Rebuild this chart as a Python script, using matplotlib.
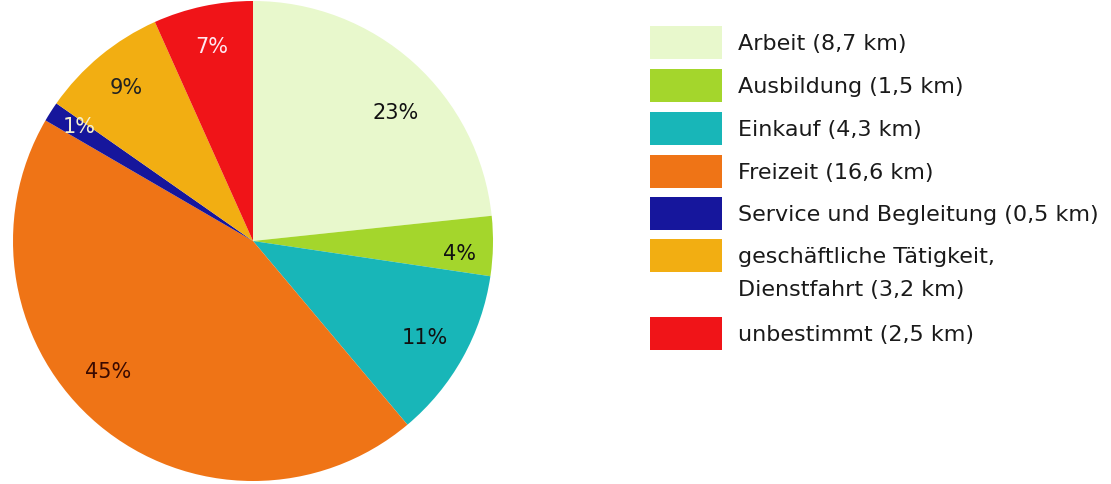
import matplotlib
matplotlib.use('Agg')
import matplotlib.pyplot as plt
from matplotlib.patches import Rectangle
import numpy as np

# data
categories = ["Arbeit", "Ausbildung", "Einkauf", "Freizeit", "Service und Begleitung",
              "geschäftliche Tätigkeit,\nDienstfahrt", "unbestimmt"]
km = [8.7, 1.5, 4.3, 16.6, 0.5, 3.2, 2.5]
km_labels = ["8,7", "1,5", "4,3", "16,6", "0,5", "3,2", "2,5"]
pct_labels = ["23%", "4%", "11%", "45%", "1%", "9%", "7%"]

colors = ["#e8f8cc", "#a4d62c", "#18b6b8", "#ef7416", "#16169c", "#f2ae12", "#f01418"]
pct_colors = ["#111111", "#111111", "#111111", "#3a0a00", "#f4f0d0", "#222222", "#ffe8f0"]
# label placement tweaks (angle shift in degrees, distance from centre)
lab_shift = [-6, -2, 0, -8, -1, 0, 0]
lab_dist = [0.80, 0.86, 0.82, 0.81, 0.87, 0.83, 0.83]

plt.rcParams['font.family'] = ['DejaVu Sans']

fig = plt.figure(figsize=(11.11, 4.85), dpi=100)

# pie
ax = fig.add_axes([13/1111, 3/485, 480/1111, 480/485])
it = iter(pct_labels)
wedges, texts, autotexts = ax.pie(km, colors=colors, startangle=90, counterclock=False,
                                  autopct=lambda p: next(it), pctdistance=0.82,
                                  wedgeprops=dict(linewidth=0))
for i, t in enumerate(autotexts):
    w = wedges[i]
    ang = np.deg2rad((w.theta1 + w.theta2) / 2 + lab_shift[i])
    t.set_position((lab_dist[i] * np.cos(ang), lab_dist[i] * np.sin(ang)))
    t.set_color(pct_colors[i])
    t.set_fontsize(15)
ax.set_xlim(-1, 1)
ax.set_ylim(-1, 1)
ax.set_aspect('equal')

# legend, drawn in pixel coordinates
lax = fig.add_axes([0, 0, 1, 1])
lax.set_xlim(0, 1111)
lax.set_ylim(485, 0)
lax.axis('off')
box_y = [27, 70, 113, 156, 198, 240, 318]
for i, cat in enumerate(categories):
    y = box_y[i]
    lax.add_patch(Rectangle((650, y), 72, 33, facecolor=colors[i], edgecolor='none'))
    lines = (cat + " (" + km_labels[i] + " km)").split("\n")
    for j, line in enumerate(lines):
        lax.text(738, y + 17 + j * 33, line, fontsize=16, va='center', ha='left',
                 color='#1a1a1a')

fig.savefig("out.png", dpi=100)
